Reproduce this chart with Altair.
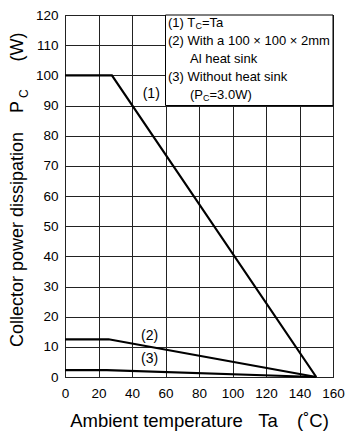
import altair as alt
import pandas as pd

# ---- data ----
curve_names = ["(1)", "(2)", "(3)"]
curve1_ta = [0, 28, 150]
curve1_pc = [100, 100, 0]
curve2_ta = [0, 26, 150]
curve2_pc = [12.5, 12.5, 0]
curve3_ta = [0, 25, 150]
curve3_pc = [2.3, 2.3, 0]

label_text = ["(1)", "(2)", "(3)"]
label_ta = [51.5, 50.5, 50.5]
label_pc = [93.8, 13.7, 5.9]

x_ticks = [0, 20, 40, 60, 80, 100, 120, 140, 160]
y_ticks = [0, 10, 20, 30, 40, 50, 60, 70, 80, 90, 100, 110, 120]

FONT = "Liberation Sans"
NB = "\u00a0"

rows = []
for name, xs, ys in zip(curve_names, [curve1_ta, curve2_ta, curve3_ta],
                        [curve1_pc, curve2_pc, curve3_pc]):
    for i, (a, b) in enumerate(zip(xs, ys)):
        rows.append({"curve": name, "order": i, "ta": a, "pc": b})
curves = pd.DataFrame(rows)

xscale = alt.Scale(domain=[0, 160], nice=False, zero=False)
yscale = alt.Scale(domain=[0, 120], nice=False, zero=False)

xaxis = alt.Axis(values=x_ticks, grid=True, ticks=False, domain=False,
                 labelFont=FONT, labelFontSize=13.5, labelColor="black",
                 labelPadding=9, labelFlush=False, labelOverlap=False,
                 title=f"Ambient temperature{NB*3}Ta{NB*3}\u2009(\u02daC)",
                 titleFont=FONT, titleFontSize=18.5, titleFontWeight="normal",
                 titleColor="black", titlePadding=12)
yaxis = alt.Axis(values=y_ticks, grid=True, ticks=False, domain=False,
                 labelFont=FONT, labelFontSize=13.5, labelColor="black",
                 labelPadding=7, labelFlush=False, labelOverlap=False, title=None)

lines = alt.Chart(curves).mark_line(color="black", strokeWidth=2.2).encode(
    x=alt.X("ta:Q", scale=xscale, axis=xaxis),
    y=alt.Y("pc:Q", scale=yscale, axis=yaxis),
    detail="curve:N",
    order="order:Q",
)

labels = alt.Chart(pd.DataFrame({"t": label_text, "ta": label_ta, "pc": label_pc})).mark_text(
    font=FONT, fontSize=14, color="black", align="center", baseline="middle"
).encode(x=alt.X("ta:Q", scale=xscale, axis=xaxis),
         y=alt.Y("pc:Q", scale=yscale, axis=yaxis), text="t:N")

box = alt.Chart(pd.DataFrame({"ta": [60], "x2": [160], "pc": [90], "y2": [120]})).mark_rect(
    fill="white", stroke="black", strokeWidth=1
).encode(x=alt.X("ta:Q", scale=xscale, axis=xaxis), x2="x2",
         y=alt.Y("pc:Q", scale=yscale, axis=yaxis), y2="y2")

one = pd.DataFrame({"a": [0]})


def ptxt(text, px, py, size=13, align="left", angle=0, baseline="middle"):
    kw = dict(font=FONT, fontSize=size, color="black", align=align, baseline=baseline)
    if angle:
        kw["angle"] = angle
    return alt.Chart(one).mark_text(text=text, **kw).encode(
        x=alt.value(px), y=alt.value(py))


# legend text (pixel positions inside plot)
lx = 103
legend = [
    ptxt("(1) T", lx, 8),
    ptxt("C", lx + 27.4, 11, size=9),
    ptxt("=Ta", lx + 34, 8),
    ptxt("(2) With a 100 \u00d7 100 \u00d7 2mm", lx, 26),
    ptxt("Al heat sink", lx + 22, 44),
    ptxt("(3) Without heat sink", lx, 62),
    ptxt("(P", lx + 22, 80),
    ptxt("C", lx + 35, 83, size=9),
    ptxt("=3.0W)", lx + 41.5, 80),
]

# y title pieces (rotated)
YT = 18
ytitle = [
    ptxt("Collector power dissipation", -47, 332, size=YT, angle=270),
    ptxt("P", -47, 98, size=YT, angle=270),
    ptxt("C", -41, 83, size=12, angle=270),
    ptxt("(W)", -47, 32, size=YT, angle=270, align="center"),
]

chart = alt.layer(lines, box, labels, *legend, *ytitle).properties(
    width=268, height=362,
    autosize=alt.AutoSizeParams(type="none"),
    padding={"left": 57, "top": 7, "right": 12, "bottom": 56},
).configure_view(stroke="black", strokeWidth=1).configure_axis(
    gridColor="#222222", gridWidth=1, gridOpacity=1
)

chart.save("out.html", embed_options={"renderer": "svg", "actions": False})
